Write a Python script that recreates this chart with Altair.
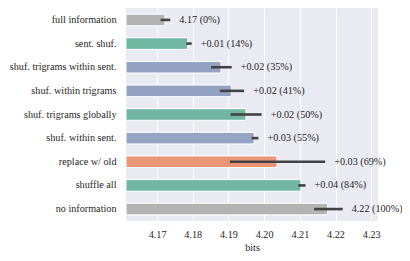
import altair as alt
import pandas as pd

labels = ["full information", "sent. shuf.", "shuf. trigrams within sent.",
          "shuf. within trigrams", "shuf. trigrams globally", "shuf. within sent.",
          "replace w/ old", "shuffle all", "no information"]
values = [4.1722, 4.1786, 4.1879, 4.1908, 4.1949, 4.1972, 4.2036, 4.2103, 4.2178]
err_lo = [4.1710, 4.1782, 4.1851, 4.1876, 4.1906, 4.1965, 4.1904, 4.2096, 4.2140]
err_hi = [4.1737, 4.1797, 4.1909, 4.1944, 4.1993, 4.1984, 4.2171, 4.2116, 4.2220]
annotations = ["4.17 (0%)", "+0.01 (14%)", "+0.02 (35%)", "+0.02 (41%)", "+0.02 (50%)",
               "+0.03 (55%)", "+0.03 (69%)", "+0.04 (84%)", "4.22 (100%)"]
colors = ["#b3b3b3", "#71b6a1", "#95a3c3", "#95a3c3", "#71b6a1", "#95a3c3",
          "#ea9575", "#71b6a1", "#b3b3b3"]
ticks = [4.17, 4.18, 4.19, 4.20, 4.21, 4.22, 4.23]
x_min, x_max = 4.1613, 4.2319

df = pd.DataFrame({
    "label": labels, "value": values, "lo": err_lo, "hi": err_hi,
    "ann": annotations, "color": colors,
})
df["textx"] = df[["value", "hi"]].max(axis=1)

FONT = "Liberation Serif"
FS = 10.2
y = alt.Y("label:N", sort=labels, title=None,
          scale=alt.Scale(paddingInner=0.51, paddingOuter=0.26),
          axis=alt.Axis(ticks=False, domain=False, grid=False, labelPadding=10,
                        labelFontSize=FS, labelFont=FONT, labelColor="#262626"))
xscale = alt.Scale(domain=[x_min, x_max], nice=False, zero=False)

base = alt.Chart(df)
bars = base.mark_bar(stroke="white", strokeWidth=1, clip=True).encode(
    x=alt.X("value:Q", scale=xscale, title="bits",
            axis=alt.Axis(values=ticks, format=".2f", ticks=False, domain=False,
                          grid=True, gridColor="white", gridWidth=1,
                          labelPadding=8, labelFontSize=FS, labelFont=FONT,
                          labelColor="#262626", titleFont=FONT, titleFontSize=FS,
                          titleFontWeight="normal", titleColor="#262626",
                          titlePadding=3)),
    x2=alt.datum(x_min),
    y=y,
    color=alt.Color("color:N", scale=None),
)
rules = base.mark_rule(color="#424242", strokeWidth=2.6).encode(
    x=alt.X("lo:Q", scale=xscale), x2="hi:Q", y=alt.Y("label:N", sort=labels, bandPosition=0.5)
)
text = base.mark_text(align="left", baseline="middle", dx=9, font=FONT,
                      fontSize=FS, color="#262626").encode(
    x=alt.X("textx:Q", scale=xscale), y=alt.Y("label:N", sort=labels), text="ann:N"
)

chart = alt.layer(bars, rules, text).properties(
    width=252, height=213,
    autosize="none",
    padding={"left": 118, "top": 0, "right": 24, "bottom": 32},
).configure_view(fill="#eaeaf2", stroke=None)

chart.save("out.html", embed_options={"renderer": "svg", "actions": False})
